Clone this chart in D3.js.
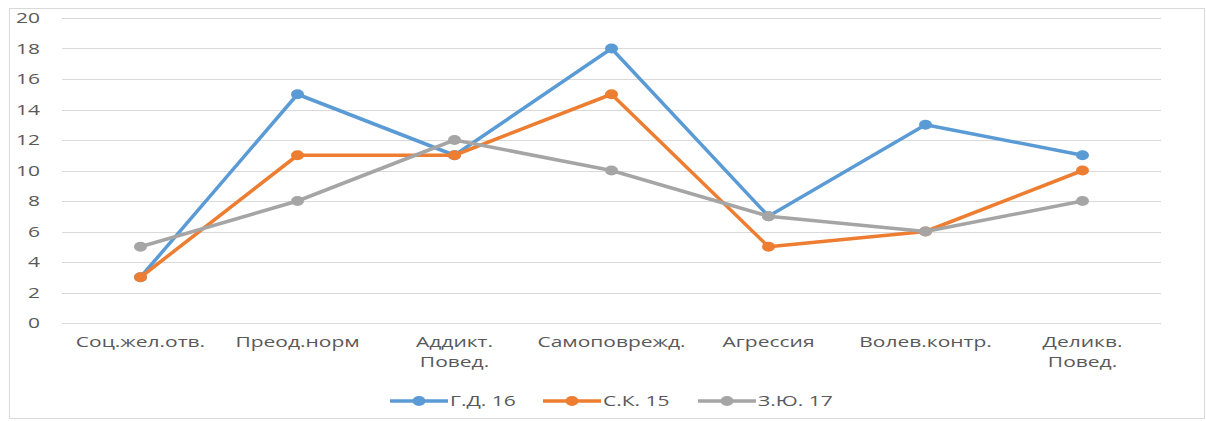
<!DOCTYPE html>
<html>
<head>
<meta charset="utf-8">
<script src="https://cdn.jsdelivr.net/npm/d3@7"></script>
<style>
  body { margin: 0; background: #fff; }
  svg { display: block; font-family: "Open Sans", "Liberation Sans", sans-serif; }
</style>
</head>
<body>
<svg class="svg-main" width="1206" height="421"></svg>
<script>
const categories = [
  ["Соц.жел.отв."],
  ["Преод.норм"],
  ["Аддикт.", "Повед."],
  ["Самоповрежд."],
  ["Агрессия"],
  ["Волев.контр."],
  ["Деликв.", "Повед."]
];
const seriesNames = ["Г.Д. 16", "С.К. 15", "З.Ю. 17"];
const gdValues = [3, 15, 11, 18, 7, 13, 11];
const skValues = [3, 11, 11, 15, 5, 6, 10];
const zyValues = [5, 8, 12, 10, 7, 6, 8];
const yTicks = [0, 2, 4, 6, 8, 10, 12, 14, 16, 18, 20];
const colors = ["#5b9bd5", "#ed7d31", "#a5a5a5"];

const series = [gdValues, skValues, zyValues].map((values, i) => ({
  name: seriesNames[i], values, color: colors[i]
}));

const svg = d3.select(".svg-main");
const stretch = 1.5; // text in the picture is stretched sideways

// outer frame
svg.append("rect")
  .attr("x", 9.5).attr("y", 8.5)
  .attr("width", 1195).attr("height", 410)
  .attr("fill", "none")
  .attr("stroke", "#d9d9d9");

const x = d3.scaleBand()
  .domain(d3.range(categories.length))
  .range([62, 1161]);
const y = d3.scaleLinear().domain([0, 20]).range([323, 18]);

// gridlines
svg.append("g")
  .selectAll("line")
  .data(yTicks)
  .enter().append("line")
    .attr("x1", 62).attr("x2", 1161)
    .attr("y1", d => Math.round(y(d)) + 0.5)
    .attr("y2", d => Math.round(y(d)) + 0.5)
    .attr("stroke", "#d9d9d9")
    .attr("stroke-width", 1);

const stretchedText = (sel, tx, ty, anchor) => sel
  .attr("transform", `translate(${tx},${ty}) scale(${stretch},1)`)
  .attr("text-anchor", anchor)
  .attr("fill", "#595959")
  .attr("font-size", 14);

// y tick labels
svg.append("g")
  .selectAll("text")
  .data(yTicks)
  .enter().append("text")
    .each(function(d) {
      stretchedText(d3.select(this), 40, y(d) + 5, "end");
    })
    .text(d => d);

// category labels
const cx = i => x(i) + x.bandwidth() / 2;
categories.forEach((lines, i) => {
  lines.forEach((line, j) => {
    svg.append("text")
      .call(stretchedText, cx(i), 347 + j * 20, "middle")
      .text(line);
  });
});

// lines and markers
const line = d3.line()
  .x((d, i) => cx(i))
  .y(d => y(d));

const groups = svg.append("g")
  .selectAll("g")
  .data(series)
  .enter().append("g");

groups.append("path")
  .attr("d", d => line(d.values))
  .attr("fill", "none")
  .attr("stroke", d => d.color)
  .attr("stroke-width", 3.5)
  .attr("stroke-linejoin", "round");

groups.selectAll("ellipse")
  .data(d => d.values.map((v, i) => ({ v, i, color: d.color })))
  .enter().append("ellipse")
    .attr("cx", d => cx(d.i))
    .attr("cy", d => y(d.v))
    .attr("rx", 6.5)
    .attr("ry", 5)
    .attr("fill", d => d.color);

// legend
const legendX = [390, 543, 698];
const legend = svg.append("g")
  .selectAll("g")
  .data(series)
  .enter().append("g")
    .attr("transform", (d, i) => `translate(${legendX[i]},401)`);

legend.append("line")
  .attr("x1", 0).attr("x2", 58)
  .attr("stroke", d => d.color)
  .attr("stroke-width", 3.5);
legend.append("ellipse")
  .attr("cx", 29).attr("rx", 6.5).attr("ry", 5)
  .attr("fill", d => d.color);
legend.append("text")
  .call(stretchedText, 60, 5, "start")
  .text(d => d.name);
</script>
</body>
</html>
